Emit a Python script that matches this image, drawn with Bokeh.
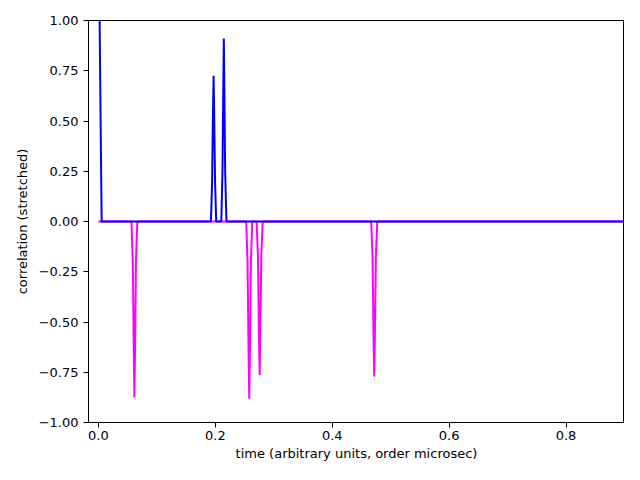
from bokeh.plotting import figure
from bokeh.models import Range1d, FixedTicker
from bokeh.embed import file_html
from bokeh.resources import INLINE

# Blue series (autocorrelation-like)
blue_x = [0.002, 0.0055, 0.1925, 0.1945, 0.196, 0.197, 0.198, 0.1995, 0.2015, 0.2102, 0.2122, 0.2137, 0.2145, 0.2153, 0.2168, 0.219, 0.9]
blue_y = [1.0, 0.0, 0.0, 0.2, 0.55, 0.725, 0.55, 0.2, 0.0, 0.0, 0.25, 0.7, 0.91, 0.7, 0.25, 0.0, 0.0]

# Magenta series (negative peaks)
mag_x = [0.0, 0.0565, 0.0588, 0.0605, 0.0615, 0.0625, 0.0642, 0.0665,
         0.2528, 0.2551, 0.2569, 0.258, 0.2591, 0.2609, 0.2632,
         0.2706, 0.2729, 0.2747, 0.2758, 0.2769, 0.2787, 0.281,
         0.4666, 0.4689, 0.4707, 0.4718, 0.4729, 0.4747, 0.477, 0.9]
mag_y = [0.0, 0.0, -0.2, -0.66, -0.875, -0.66, -0.2, 0.0,
         0.0, -0.2, -0.66, -0.882, -0.66, -0.2, 0.0,
         0.0, -0.17, -0.57, -0.763, -0.57, -0.17, 0.0,
         0.0, -0.17, -0.58, -0.771, -0.58, -0.17, 0.0, 0.0]

x_ticks = [0.0, 0.2, 0.4, 0.6, 0.8]
x_labels = ["0.0", "0.2", "0.4", "0.6", "0.8"]
y_ticks = [-1.0, -0.75, -0.5, -0.25, 0.0, 0.25, 0.5, 0.75, 1.0]
y_labels = ["\u22121.00", "\u22120.75", "\u22120.50", "\u22120.25", "0.00", "0.25", "0.50", "0.75", "1.00"]

p = figure(width=624, height=464, output_backend="svg", toolbar_location=None,
           x_range=Range1d(-0.017, 0.9), y_range=Range1d(-1.0, 1.0),
           min_border_left=88, min_border_right=0, min_border_top=20, min_border_bottom=42)
p.xgrid.visible = False
p.ygrid.visible = False
p.outline_line_color = "black"
p.outline_line_width = 1
p.background_fill_color = "white"
p.border_fill_color = "white"

p.line(mag_x, mag_y, line_color="#ff00ff", line_width=2)
p.line(blue_x, blue_y, line_color="#0000ff", line_width=2)

p.xaxis.ticker = FixedTicker(ticks=x_ticks)
p.xaxis.major_label_overrides = {t: l for t, l in zip(x_ticks, x_labels)}
p.yaxis.ticker = FixedTicker(ticks=y_ticks)
p.yaxis.major_label_overrides = {t: l for t, l in zip(y_ticks, y_labels)}

for ax in (p.xaxis, p.yaxis):
    ax.axis_line_color = "black"
    ax.major_tick_line_color = "black"
    ax.major_tick_out = 5
    ax.major_tick_in = 0
    ax.minor_tick_line_color = None
    ax.major_label_text_font = "DejaVu Sans"
    ax.major_label_text_font_size = "13px"
    ax.major_label_text_color = "black"
    ax.axis_label_text_font = "DejaVu Sans"
    ax.axis_label_text_font_size = "13px"
    ax.axis_label_text_font_style = "normal"
    ax.axis_label_text_color = "black"

p.xaxis.axis_label = "time (arbitrary units, order microsec)"
p.yaxis.axis_label = "correlation (stretched)"
p.xaxis.major_label_standoff = 3
p.xaxis.axis_label_standoff = 3
p.yaxis.axis_label_standoff = 6

open("out.html", "w").write(file_html(p, INLINE))
